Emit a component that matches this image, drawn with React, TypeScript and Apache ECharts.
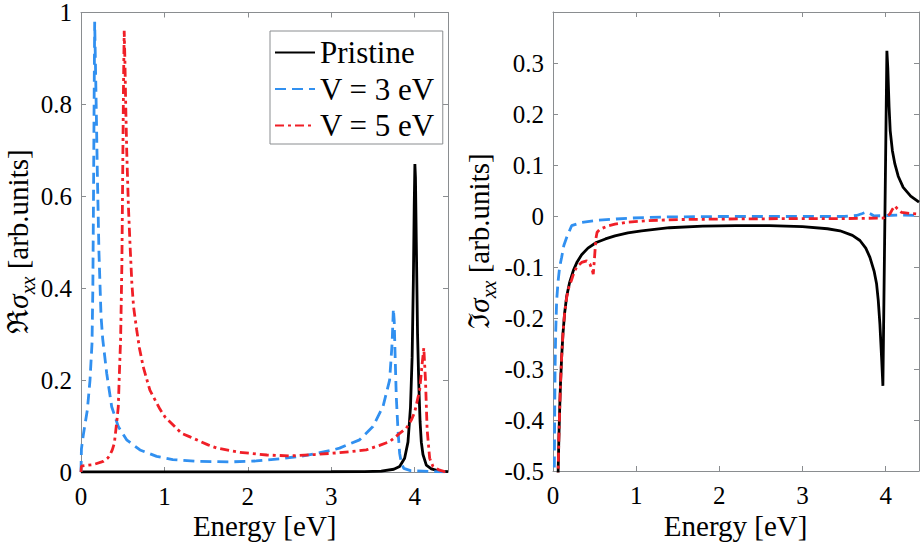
import React, { useEffect, useRef } from "react";
import * as echarts from "echarts";

// ---------- data ----------
const seriesNames = ["Pristine", "V = 3 eV", "V = 5 eV"];

const energyMin = 0;
const energyMax = 4.4;
const energyStep = 1;

const reMin = 0;
const reMax = 1;
const reStep = 0.2;

const imMin = -0.5;
const imMax = 0.4;
const imStep = 0.1;

// Real part: [energy (eV), Re sigma_xx]
const rePristine = [
  [0, 0], [1, 0], [2, 0], [3, 0.0005], [3.4, 0.001], [3.6, 0.002], [3.75, 0.006],
  [3.82, 0.012], [3.88, 0.03], [3.92, 0.065], [3.95, 0.14], [3.97, 0.25], [3.985, 0.42],
  [3.995, 0.58], [4.003, 0.67], [4.01, 0.64], [4.02, 0.5], [4.035, 0.3], [4.05, 0.19],
  [4.065, 0.11], [4.08, 0.065], [4.1, 0.038], [4.14, 0.015], [4.2, 0.007], [4.3, 0.002],
  [4.4, 0.001],
];

const reV3 = [
  [0, 0], [0.005, 0.05], [0.028, 0.081], [0.076, 0.135], [0.108, 0.2], [0.132, 0.28],
  [0.142, 0.4], [0.15, 0.6], [0.157, 0.8], [0.164, 0.98], [0.172, 0.9], [0.182, 0.8],
  [0.196, 0.65], [0.215, 0.48], [0.24, 0.34], [0.26, 0.29], [0.308, 0.215], [0.368, 0.142],
  [0.447, 0.099], [0.547, 0.07], [0.707, 0.048], [0.907, 0.034], [1.1, 0.027], [1.4, 0.023],
  [1.8, 0.022], [2.1, 0.024], [2.4, 0.029], [2.7, 0.036], [3.0, 0.047], [3.1, 0.052],
  [3.34, 0.07], [3.5, 0.099], [3.62, 0.142], [3.7, 0.2], [3.73, 0.28], [3.745, 0.355],
  [3.755, 0.33], [3.765, 0.26], [3.78, 0.164], [3.8, 0.092], [3.82, 0.041], [3.84, 0.02],
  [3.87, 0.008], [3.95, 0.003], [4.2, 0.001], [4.4, 0],
];

const reV5 = [
  [0, 0], [0.005, 0.013], [0.05, 0.014], [0.147, 0.016], [0.267, 0.023], [0.32, 0.03],
  [0.347, 0.037], [0.375, 0.048], [0.4, 0.063], [0.427, 0.106], [0.447, 0.142], [0.46, 0.214],
  [0.475, 0.29], [0.49, 0.45], [0.5, 0.65], [0.51, 0.85], [0.518, 0.96], [0.526, 0.9],
  [0.536, 0.8], [0.548, 0.7], [0.568, 0.58], [0.588, 0.494], [0.61, 0.41], [0.63, 0.36],
  [0.667, 0.31], [0.7, 0.27], [0.746, 0.229], [0.826, 0.178], [0.946, 0.137], [1.006, 0.12],
  [1.206, 0.084], [1.3, 0.077], [1.524, 0.059], [1.63, 0.052], [1.9, 0.043], [2.228, 0.037],
  [2.5, 0.035], [2.8, 0.038], [3.1, 0.042], [3.42, 0.048], [3.58, 0.058], [3.7, 0.066],
  [3.82, 0.084], [3.9, 0.095], [3.96, 0.113], [4.0, 0.13], [4.06, 0.178], [4.09, 0.235],
  [4.11, 0.27], [4.13, 0.2], [4.15, 0.092], [4.18, 0.03], [4.22, 0.012], [4.3, 0.004],
  [4.36, 0.001], [4.4, 0.001],
];

// Imaginary part: [energy (eV), Im sigma_xx]
const imPristine = [
  [0.055, -0.56], [0.062, -0.5], [0.07, -0.44], [0.08, -0.38], [0.09, -0.33], [0.104, -0.277],
  [0.12, -0.23], [0.14, -0.19], [0.164, -0.158], [0.2, -0.13], [0.244, -0.107], [0.29, -0.09],
  [0.344, -0.076], [0.42, -0.063], [0.52, -0.052], [0.63, -0.045], [0.745, -0.039], [0.9, -0.033],
  [1.065, -0.029], [1.4, -0.023], [1.8, -0.02], [2.2, -0.019], [2.6, -0.019], [3.0, -0.021],
  [3.3, -0.025], [3.45, -0.029], [3.6, -0.038], [3.69, -0.048], [3.76, -0.063], [3.81, -0.081],
  [3.86, -0.108], [3.89, -0.133], [3.91, -0.165], [3.93, -0.212], [3.95, -0.277], [3.966, -0.333],
  [4.014, 0.324], [4.025, 0.29], [4.04, 0.215], [4.054, 0.167], [4.08, 0.128], [4.11, 0.102],
  [4.15, 0.078], [4.21, 0.056], [4.3, 0.039], [4.4, 0.027],
];

const imV3 = [
  [0.012, -0.56], [0.016, -0.5], [0.02, -0.4], [0.025, -0.3], [0.032, -0.23], [0.044, -0.166],
  [0.06, -0.13], [0.08, -0.1], [0.104, -0.081], [0.13, -0.058], [0.164, -0.042], [0.224, -0.019],
  [0.344, -0.0125], [0.544, -0.008], [0.945, -0.004], [1.3, -0.002], [2.0, -0.001], [3.0, -0.001],
  [3.5, -0.001], [3.65, 0.001], [3.72, 0.005], [3.77, 0.008], [3.82, 0.004], [3.86, 0.0],
  [4.0, 0.001], [4.2, 0.002], [4.4, 0.001],
];

const imV5 = [
  [0.055, -0.56], [0.062, -0.5], [0.07, -0.44], [0.08, -0.38], [0.09, -0.33], [0.104, -0.277],
  [0.12, -0.23], [0.14, -0.19], [0.164, -0.16], [0.19, -0.14], [0.224, -0.125], [0.25, -0.112],
  [0.284, -0.1], [0.344, -0.091], [0.404, -0.088], [0.444, -0.094], [0.47, -0.105], [0.484, -0.114],
  [0.5, -0.08], [0.515, -0.045], [0.53, -0.032], [0.565, -0.026], [0.65, -0.02], [0.745, -0.016],
  [0.9, -0.012], [1.145, -0.009], [1.5, -0.007], [2.0, -0.006], [3.0, -0.005], [3.5, -0.005],
  [3.97, -0.004], [4.02, 0.0], [4.05, 0.004], [4.08, 0.013], [4.11, 0.02], [4.14, 0.014],
  [4.19, 0.007], [4.3, 0.005], [4.4, 0.004],
];

// ---------- styles ----------
const FONT = "'Liberation Serif', 'Times New Roman', Times, serif";
const GRAY = "#8a8d90";
const BLACK = "#000000";
const BLUE = "#3190f0";
const RED = "#f01f27";
const LW = 2.8;

function xAxisDef(gridIndex: number, position: "bottom" | "top") {
  return {
    type: "value",
    gridIndex,
    position,
    min: energyMin,
    max: energyMax,
    interval: energyStep,
    axisLine: { show: true, onZero: false, lineStyle: { color: GRAY, width: 1 } },
    axisTick: { show: true, inside: true, length: 5, lineStyle: { color: GRAY } },
    axisLabel: {
      show: position === "bottom",
      showMaxLabel: false,
      color: "#000",
      fontFamily: FONT,
      fontSize: 25,
      margin: 12,
    },
    splitLine: { show: false },
  };
}

function yAxisDef(gridIndex: number, position: "left" | "right", min: number, max: number, step: number, hideMax: boolean) {
  return {
    type: "value",
    gridIndex,
    position,
    min,
    max,
    interval: step,
    axisLine: { show: true, onZero: false, lineStyle: { color: GRAY, width: 1 } },
    axisTick: { show: true, inside: true, length: 5, lineStyle: { color: GRAY } },
    axisLabel: {
      show: position === "left",
      showMaxLabel: !hideMax,
      color: "#000",
      fontFamily: FONT,
      fontSize: 25,
      margin: 9,
    },
    splitLine: { show: false },
  };
}

function lineSeries(name: string, data: number[][], xi: number, yi: number, color: string, dash: any) {
  return {
    type: "line",
    name,
    data,
    xAxisIndex: xi,
    yAxisIndex: yi,
    symbol: "none",
    showSymbol: false,
    clip: true,
    lineStyle: { color, width: LW, type: dash, cap: "butt" },
    itemStyle: { color },
    emphasis: { disabled: true },
  };
}

const yLabelRich = {
  f: { fontSize: 29, fontFamily: FONT, fill: "#000", color: "#000", lineHeight: 40 },
  s: { fontSize: 29, fontFamily: FONT, fontStyle: "italic", fill: "#000", color: "#000", lineHeight: 40 },
  b: { fontSize: 20, fontFamily: FONT, fontStyle: "italic", fill: "#000", color: "#000", lineHeight: 22, verticalAlign: "bottom" },
  t: { fontSize: 29, fontFamily: FONT, fill: "#000", color: "#000", lineHeight: 40 },
};

function buildOption() {
  const dashBlue = [11, 6];
  const dashRed = [9, 4, 3, 4];
  return {
    animation: false,
    backgroundColor: "#ffffff",
    grid: [
      { left: 81, top: 11, width: 367, height: 461 },
      { left: 553, top: 12, width: 366, height: 459 },
    ],
    xAxis: [xAxisDef(0, "bottom"), xAxisDef(0, "top"), xAxisDef(1, "bottom"), xAxisDef(1, "top")],
    yAxis: [
      yAxisDef(0, "left", reMin, reMax, reStep, false),
      yAxisDef(0, "right", reMin, reMax, reStep, false),
      yAxisDef(1, "left", imMin, imMax, imStep, true),
      yAxisDef(1, "right", imMin, imMax, imStep, true),
    ],
    legend: {
      show: true,
      orient: "vertical",
      left: 270,
      top: 31,
      data: seriesNames,
      itemWidth: 40,
      itemHeight: 1,
      itemGap: 5.5,
      padding: [6, 8, 3, 4],
      borderColor: GRAY,
      borderWidth: 1,
      backgroundColor: "#ffffff",
      selectedMode: false,
      itemStyle: { opacity: 0, borderWidth: 0 },
      textStyle: { fontFamily: FONT, fontSize: 31, color: "#000", lineHeight: 31 },
    },
    series: [
      lineSeries(seriesNames[0], rePristine, 0, 0, BLACK, "solid"),
      lineSeries(seriesNames[1], reV3, 0, 0, BLUE, dashBlue),
      lineSeries(seriesNames[2], reV5, 0, 0, RED, dashRed),
      lineSeries(seriesNames[0], imPristine, 2, 2, BLACK, "solid"),
      lineSeries(seriesNames[1], imV3, 2, 2, BLUE, dashBlue),
      lineSeries(seriesNames[2], imV5, 2, 2, RED, dashRed),
    ],
    graphic: [
      {
        type: "text",
        x: 17.5,
        y: 241.5,
        rotation: Math.PI / 2,
        style: {
          text: "{f|\u211C}{s|\u03C3}{b|xx} {t|[arb.units]}",
          align: "center",
          verticalAlign: "middle",
          fontFamily: FONT,
          fontSize: 29,
          fill: "#000",
          rich: yLabelRich,
        },
      },
      {
        type: "text",
        x: 479,
        y: 241,
        rotation: Math.PI / 2,
        style: {
          text: "{f|\u2111}{s|\u03C3}{b|xx} {t|[arb.units]}",
          align: "center",
          verticalAlign: "middle",
          fontFamily: FONT,
          fontSize: 29,
          fill: "#000",
          rich: yLabelRich,
        },
      },
      {
        type: "text",
        x: 264.7,
        y: 526,
        style: { text: "Energy [eV]", align: "center", verticalAlign: "middle", fontFamily: FONT, fontSize: 29, lineHeight: 24, fill: "#000" },
      },
      {
        type: "text",
        x: 735.6,
        y: 526,
        style: { text: "Energy [eV]", align: "center", verticalAlign: "middle", fontFamily: FONT, fontSize: 29, lineHeight: 24, fill: "#000" },
      },
    ],
  };
}

export default function App() {
  const ref = useRef<HTMLDivElement>(null);
  useEffect(() => {
    if (!ref.current) return;
    const chart = echarts.init(ref.current, undefined, { renderer: "svg" });
    chart.setOption(buildOption() as any);
    return () => {
      chart.dispose();
    };
  }, []);
  return (
    <div
      ref={ref}
      style={{ position: "fixed", left: 0, top: 0, width: 922, height: 548, background: "#ffffff" }}
    />
  );
}
